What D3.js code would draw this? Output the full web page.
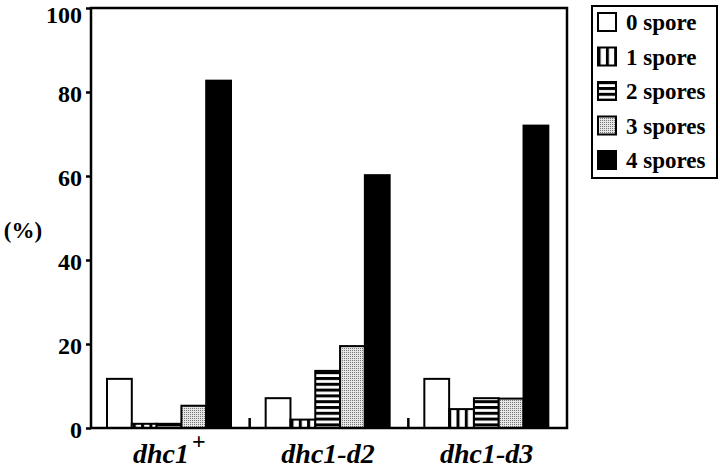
<!DOCTYPE html>
<html><head><meta charset="utf-8">
<script src="https://cdn.jsdelivr.net/npm/d3@7"></script>
<style>body{margin:0;background:#fff}svg{display:block}</style>
</head><body>
<svg id="c" width="720" height="472"></svg>
<script>
const groups = ["dhc1", "dhc1-d2", "dhc1-d3"];
const series = ["0 spore", "1 spore", "2 spores", "3 spores", "4 spores"];
const s0 = [11.7, 7.1, 11.7];
const s1 = [1.0, 2.0, 4.5];
const s2 = [1.0, 13.6, 7.1];
const s3 = [5.3, 19.5, 7.0];
const s4 = [82.7, 60.2, 72.0];
const yTicks = [0, 20, 40, 60, 80, 100];
const values = [s0, s1, s2, s3, s4];

const svg = d3.select("#c");
const serif = "'Liberation Serif', 'DejaVu Serif', serif";
const L = 91, R = 567, T = 8, B = 428;

const defs = svg.append("defs");
const pv = defs.append("pattern").attr("id","vstripe").attr("patternUnits","userSpaceOnUse").attr("width",8.3).attr("height",10);
pv.append("rect").attr("width",8.3).attr("height",10).attr("fill","#fff");
pv.append("rect").attr("x",0).attr("width",3).attr("height",10).attr("fill","#000");
const ph = defs.append("pattern").attr("id","hstripe").attr("patternUnits","userSpaceOnUse").attr("width",10).attr("height",5.8);
ph.append("rect").attr("width",10).attr("height",5.8).attr("fill","#fff");
ph.append("rect").attr("y",0).attr("width",10).attr("height",3).attr("fill","#000");
const pd = defs.append("pattern").attr("id","dots").attr("patternUnits","userSpaceOnUse").attr("width",2).attr("height",2);
pd.append("rect").attr("width",2).attr("height",2).attr("fill","#e6e6e6");
pd.append("rect").attr("width",1).attr("height",1).attr("fill","#777");
const fills = ["#fff", "url(#vstripe)", "url(#hstripe)", "url(#dots)", "#000"];

const x0 = d3.scaleBand().domain(groups).range([L, R]);
const x1 = d3.scaleBand().domain(series).range([16, 140]);
const y = d3.scaleLinear().domain([0, 100]).range([B, T]);

// bars
groups.forEach((g, gi) => {
  series.forEach((s, si) => {
    const v = values[si][gi];
    svg.append("rect")
      .attr("x", x0(g) + x1(s))
      .attr("y", y(v))
      .attr("width", x1.bandwidth())
      .attr("height", y(0) - y(v))
      .attr("fill", fills[si])
      .attr("stroke", "#000").attr("stroke-width", 2);
  });
});

// frame
svg.append("rect").attr("x", L).attr("y", T).attr("width", R - L).attr("height", B - T)
  .attr("fill", "none").attr("stroke", "#000").attr("stroke-width", 2.5);

// y axis
const ya = svg.append("g").attr("transform", `translate(${L},0)`)
  .call(d3.axisLeft(y).tickValues(yTicks).tickSize(5).tickPadding(4).tickFormat(d3.format("d")));
ya.select(".domain").remove();
ya.selectAll("line").attr("stroke", "#000").attr("stroke-width", 2.5);
ya.selectAll("text").attr("font-family", serif).attr("font-weight", "bold").attr("font-size", 24)
  .attr("fill", "#000").attr("dy", d => d === 100 ? "0.62em" : "0.38em");

// category boundary ticks
groups.slice(1).forEach(g => {
  svg.append("line").attr("x1", x0(g)).attr("x2", x0(g)).attr("y1", B).attr("y2", B - 10)
    .attr("stroke", "#000").attr("stroke-width", 2.5);
});

// category labels
const labels = [["dhc1", "+"], ["dhc1-d2", ""], ["dhc1-d3", ""]];
groups.forEach((g, gi) => {
  const t = svg.append("text").attr("x", x0(g) + x0.bandwidth() / 2 - 1).attr("y", 463)
    .attr("text-anchor", "middle").attr("font-family", serif).attr("font-weight", "bold")
    .attr("font-style", "italic").attr("font-size", 28).attr("fill", "#000");
  t.append("tspan").text(labels[gi][0]);
  if (labels[gi][1]) t.append("tspan").attr("dx", 3).attr("dy", -14).attr("font-style", "normal").attr("font-size", 24).text(labels[gi][1]);
});

// y label
svg.append("text").attr("x", 23).attr("y", 238).attr("text-anchor", "middle")
  .attr("font-family", serif).attr("font-weight", "bold").attr("font-size", 23).text("(%)");

// legend
const lg = svg.append("g");
lg.append("rect").attr("x", 592).attr("y", 6).attr("width", 125).attr("height", 172)
  .attr("fill", "#fff").attr("stroke", "#000").attr("stroke-width", 2);
series.forEach((s, si) => {
  const cy = 22 + si * 34.5;
  lg.append("rect").attr("x", 598).attr("y", cy - 9).attr("width", 18).attr("height", 18)
    .attr("fill", fills[si]).attr("stroke", "#000").attr("stroke-width", 2);
  lg.append("text").attr("x", 626).attr("y", cy + 8).attr("font-family", serif)
    .attr("font-weight", "bold").attr("font-size", 23).text(s);
});
</script>
</body></html>
